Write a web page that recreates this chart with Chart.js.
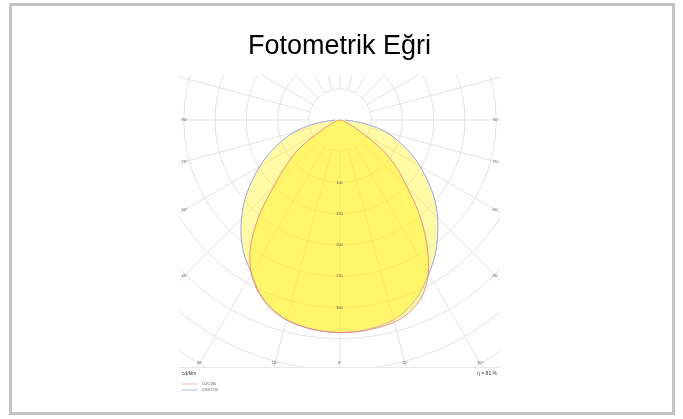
<!DOCTYPE html>
<html>
<head>
<meta charset="utf-8">
<title>Fotometrik Eğri</title>
<script src="https://cdn.jsdelivr.net/npm/chart.js@4.4.0/dist/chart.umd.min.js"></script>
<style>
  html, body { margin: 0; padding: 0; background: #fff; }
  #wrap { position: relative; width: 683px; height: 419px; }
  #frame { position: absolute; left: 9px; top: 3px; width: 666px; height: 412px;
           border: 3px solid #c3c3c3; box-sizing: border-box; }
  #photometry { position: absolute; left: 0; top: 0; }
</style>
</head>
<body>
<div id="wrap">
  <div id="frame"></div>
  <canvas id="photometry" width="683" height="419"></canvas>
</div>
<script>
// gamma angle from nadir (deg) and intensity in cd/klm for each C plane
const gammaAngles = [0, 5, 10, 15, 20, 25, 30, 35, 40, 45, 50, 55, 60, 65, 70, 75, 80, 85, 90];
const c0   = [340, 340, 338, 335, 327, 311, 283, 242, 198, 152, 118, 82, 38, 18, 9, 6, 4, 2, 0];
const c180 = [340, 339, 336, 331, 322, 306, 284, 250, 203, 150, 112, 80, 38, 18, 9, 6, 4, 2, 0];
const c90  = [340, 339, 336, 331, 320, 304, 284, 265, 243, 221, 198, 172, 148, 124, 100, 78, 50, 22, 8];
const c270 = [340, 339, 336, 331, 320, 305, 283, 266, 246, 223, 199, 173, 148, 124, 100, 77, 50, 22, 8];

const ringValues = [50, 100, 150, 200, 250, 300, 350, 400, 450, 500];
const ringLabels = [100, 150, 200, 250, 300];
const angleLabels = [90, 75, 60, 45, 30, 15];
const unitLabel = 'cd/klm';
const efficiencyLabel = 'η = 81 %';

// one closed outline: left half plane from 90° down to nadir, then right half back up
function planeOutline(left, right) {
  const pts = [];
  for (let i = gammaAngles.length - 1; i >= 0; i--) {
    const a = gammaAngles[i] * Math.PI / 180;
    pts.push({ x: -left[i] * Math.sin(a), y: left[i] * Math.cos(a) });
  }
  for (let i = 1; i < gammaAngles.length; i++) {
    const a = gammaAngles[i] * Math.PI / 180;
    pts.push({ x: right[i] * Math.sin(a), y: right[i] * Math.cos(a) });
  }
  return pts;
}

const smallFont = 'Liberation Sans, Arial, sans-serif';

const polarGrid = {
  id: 'polarGrid',
  beforeDatasetsDraw(chart) {
    const { ctx, chartArea: area, scales: { x, y } } = chart;
    const cx = x.getPixelForValue(0), cy = y.getPixelForValue(0);
    const px = v => x.getPixelForValue(v) - cx;
    ctx.save();
    ctx.beginPath();
    ctx.rect(area.left, area.top, area.right - area.left, area.bottom - area.top);
    ctx.clip();
    ctx.strokeStyle = '#e3e3e3';
    ctx.lineWidth = 1;
    ringValues.forEach(v => {
      ctx.beginPath();
      ctx.arc(cx, cy, px(v), 0, Math.PI * 2);
      ctx.stroke();
    });
    const r0 = px(ringValues[0]), r1 = 1000;
    for (let deg = 0; deg < 360; deg += 15) {
      const a = deg * Math.PI / 180;
      const dx = Math.sin(a), dy = Math.cos(a);
      ctx.beginPath();
      ctx.moveTo(cx + dx * r0, cy + dy * r0);
      ctx.lineTo(cx + dx * r1, cy + dy * r1);
      ctx.stroke();
    }
    ctx.restore();
    ctx.save();
    ctx.strokeStyle = '#e8e8e8';
    ctx.beginPath();
    ctx.moveTo(area.left, area.bottom + 0.5);
    ctx.lineTo(area.right, area.bottom + 0.5);
    ctx.stroke();
    ctx.restore();
  },
  afterDatasetsDraw(chart) {
    const { ctx, chartArea: area, scales: { x, y } } = chart;
    const cx = x.getPixelForValue(0), cy = y.getPixelForValue(0);
    ctx.save();
    ctx.textAlign = 'center';
    ctx.textBaseline = 'middle';

    // intensity values along the nadir line
    ctx.fillStyle = '#555';
    ctx.font = '4px ' + smallFont;
    ringLabels.forEach(v => ctx.fillText(String(v), cx - 0.5, y.getPixelForValue(v)));

    // angle labels where each ray meets the plot frame
    const halfW = cx - area.left - 5.5;
    const down = area.bottom - 4 - cy;
    ctx.font = '4px ' + smallFont;
    [-1, 1].forEach(side => {
      angleLabels.forEach(deg => {
        const a = deg * Math.PI / 180;
        const dx = Math.sin(a) * side, dy = Math.cos(a);
        const t = Math.min(dx !== 0 ? halfW / Math.abs(dx) : Infinity, dy > 0 ? down / dy : Infinity);
        ctx.fillText(deg + '°', cx + dx * t, cy + dy * t);
      });
    });
    ctx.fillText('0°', cx, area.bottom - 4);

    // unit and efficiency notes
    ctx.fillStyle = '#333';
    ctx.font = '5px ' + smallFont;
    ctx.textAlign = 'left';
    ctx.fillText(unitLabel, area.left + 3, area.bottom + 7);
    ctx.textAlign = 'right';
    ctx.fillText(efficiencyLabel, area.right - 3, area.bottom + 7);

    // legend for the C planes
    ctx.textAlign = 'left';
    ctx.font = '3.6px ' + smallFont;
    chart.data.datasets.forEach((ds, i) => {
      const ly = area.bottom + 17 + i * 6;
      ctx.strokeStyle = ds.legendColor;
      ctx.lineWidth = 1;
      ctx.beginPath();
      ctx.moveTo(area.left + 3, ly);
      ctx.lineTo(area.left + 19, ly);
      ctx.stroke();
      ctx.fillStyle = '#555';
      ctx.fillText(ds.label, area.left + 23, ly);
    });
    ctx.restore();
  }
};

new Chart(document.getElementById('photometry'), {
  type: 'scatter',
  data: {
    datasets: [
      {
        label: 'C0/C180',
        data: planeOutline(c180, c0),
        showLine: true,
        fill: 'shape',
        tension: 0.3,
        borderColor: '#ef7777',
        legendColor: '#f7b3b3',
        borderWidth: 0.8,
        backgroundColor: 'rgba(255, 242, 0, 0.35)',
        pointRadius: 0
      },
      {
        label: 'C90/C270',
        data: planeOutline(c270, c90),
        showLine: true,
        fill: 'shape',
        tension: 0.3,
        borderColor: '#8686ef',
        legendColor: '#b5b5f5',
        borderWidth: 0.8,
        backgroundColor: 'rgba(255, 242, 0, 0.35)',
        pointRadius: 0
      }
    ]
  },
  options: {
    responsive: false,
    animation: false,
    layout: { padding: { left: 179, right: 183, top: 0, bottom: 52 } },
    scales: {
      x: { type: 'linear', display: false, min: -257.6, max: 256 },
      y: { type: 'linear', display: false, min: -72, max: 395.2, reverse: true }
    },
    plugins: {
      legend: { display: false },
      tooltip: { enabled: false },
      title: {
        display: true,
        text: 'Fotometrik Eğri',
        color: '#000',
        font: { family: 'Liberation Sans, Arial, sans-serif', size: 27, weight: 'normal', lineHeight: 1.2 },
        padding: { top: 30.5, bottom: 12.1 }
      }
    }
  },
  plugins: [polarGrid]
});
</script>
</body>
</html>
